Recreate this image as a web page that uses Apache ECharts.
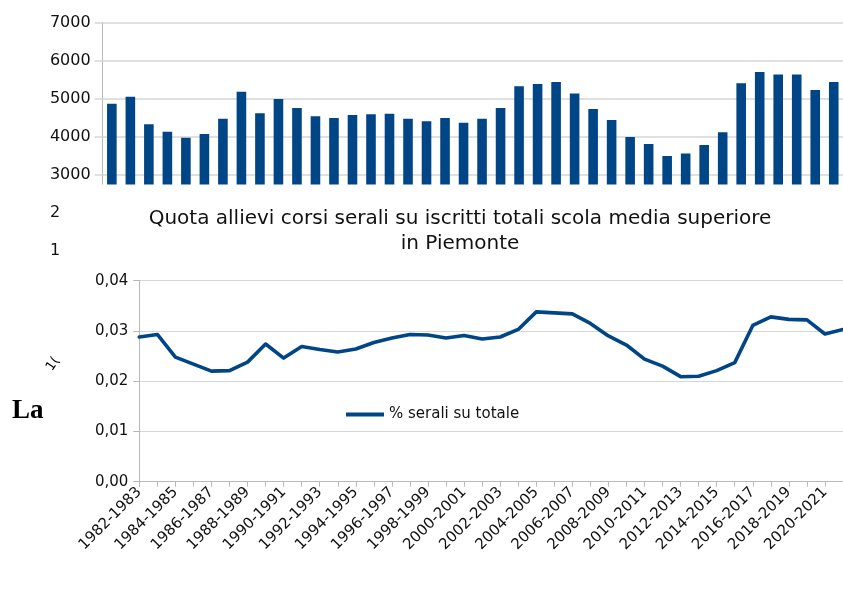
<!DOCTYPE html>
<html>
<head>
<meta charset="utf-8">
<script src="https://cdn.jsdelivr.net/npm/echarts@6/dist/echarts.min.js"></script>
<style>
html,body{margin:0;padding:0;background:#fff;}
#chart{width:843px;height:597px;}
</style>
</head>
<body>
<div id="chart"></div>
<script>
const categories = ["1982-1983","1983-1984","1984-1985","1985-1986","1986-1987","1987-1988","1988-1989","1989-1990","1990-1991","1991-1992","1992-1993","1993-1994","1994-1995","1995-1996","1996-1997","1997-1998","1998-1999","1999-2000","2000-2001","2001-2002","2002-2003","2003-2004","2004-2005","2005-2006","2006-2007","2007-2008","2008-2009","2009-2010","2010-2011","2011-2012","2012-2013","2013-2014","2014-2015","2015-2016","2016-2017","2017-2018","2018-2019","2019-2020","2020-2021","2021-2022"];
const serali = [4870,5050,4330,4130,3970,4070,4470,5180,4620,4990,4755,4535,4490,4570,4590,4605,4475,4405,4490,4370,4475,4755,5325,5385,5440,5140,4730,4440,3990,3810,3490,3555,3780,4115,5405,5700,5640,5640,5230,5440];
const quota = [0.0288,0.0293,0.0248,0.0234,0.0220,0.0221,0.0238,0.0274,0.0246,0.0269,0.0263,0.0258,0.0264,0.0277,0.0286,0.0293,0.0292,0.0286,0.0291,0.0284,0.0288,0.0303,0.0338,0.0336,0.0334,0.0315,0.0290,0.0272,0.0244,0.0230,0.0209,0.0210,0.0221,0.0237,0.0311,0.0328,0.0323,0.0322,0.0294,0.0303];
const titleText = "Quota allievi corsi serali su iscritti totali scola media superiore\nin Piemonte";
const legendName = "% serali su totale";

const FONT = "DejaVu Sans";
const BLUE = "#004586";
const GRID = "#d6d6d6";
const AXIS = "#b8b8b8";

const chart = echarts.init(document.getElementById('chart'), null, {renderer:'canvas'});
chart.setOption({
  animation:false,
  backgroundColor:'#fff',
  title:{
    text:titleText, left:460, top:206, padding:0, textAlign:'center', z:8,
    textStyle:{fontFamily:FONT, fontSize:20, fontWeight:'normal', color:'#111', lineHeight:25}
  },
  legend:{
    data:[{name:legendName}], left:346, top:407, padding:0, z:8,
    icon:'rect', itemWidth:38, itemHeight:4, itemGap:10,
    textStyle:{fontFamily:FONT, fontSize:15, color:'#111'}
  },
  grid:[
    {left:102.6, top:22.7, width:748, height:266, containLabel:false},
    {left:139.3, top:280.7, width:703.7, height:201, containLabel:false}
  ],
  xAxis:[
    {gridIndex:0, type:'category', data:categories, boundaryGap:true, z:1,
     axisLine:{show:false}, axisTick:{show:false}, axisLabel:{show:false}, splitLine:{show:false}},
    {gridIndex:1, type:'category', data:categories, boundaryGap:false, z:6,
     axisLine:{show:true, lineStyle:{color:AXIS, width:1}},
     axisTick:{show:true, interval:0, length:5, lineStyle:{color:AXIS}},
     axisLabel:{interval:1, rotate:45, margin:8, fontFamily:FONT, fontSize:15, color:'#111'},
     splitLine:{show:false}}
  ],
  yAxis:[
    {gridIndex:0, type:'value', min:0, max:7000, interval:1000, z:1,
     axisLine:{show:true, lineStyle:{color:AXIS}},
     axisTick:{show:true, length:8, lineStyle:{color:GRID, width:1.5}},
     axisLabel:{margin:12, fontFamily:FONT, fontSize:16, color:'#111',
       formatter:function(v){return String(v);}},
     splitLine:{show:true, lineStyle:{color:GRID, width:1.5}}},
    {gridIndex:1, type:'value', min:0, max:0.04, interval:0.01, z:6,
     axisLine:{show:true, lineStyle:{color:AXIS}},
     axisTick:{show:true, length:6, lineStyle:{color:AXIS}},
     axisLabel:{margin:11, fontFamily:FONT, fontSize:15, color:'#111',
       formatter:function(v){return v.toFixed(2).replace('.', ',');}},
     splitLine:{show:true, lineStyle:{color:GRID, width:1.2}}}
  ],
  series:[
    {type:'bar', xAxisIndex:0, yAxisIndex:0, data:serali, barWidth:9.6, z:1,
     itemStyle:{color:BLUE}},
    {type:'line', name:legendName, xAxisIndex:1, yAxisIndex:1, data:quota, z:7,
     showSymbol:false, symbol:'none', lineStyle:{color:BLUE, width:3.6, join:'round', cap:'round'},
     itemStyle:{color:BLUE}}
  ],
  graphic:[
    {type:'rect', z:4, silent:true, shape:{x:60, y:184.5, width:800, height:420}, style:{fill:'#fff'}},
    {type:'text', z:8, x:12, y:411, style:{text:'La', font:'bold 27px "Liberation Serif"', fill:'#000', textVerticalAlign:'middle'}},
    {type:'text', z:8, x:53, y:364, rotation:Math.PI/3.2, style:{text:'1(', font:'13px "DejaVu Sans"', fill:'#000', textAlign:'center', textVerticalAlign:'middle'}}
  ]
});
</script>
</body>
</html>
